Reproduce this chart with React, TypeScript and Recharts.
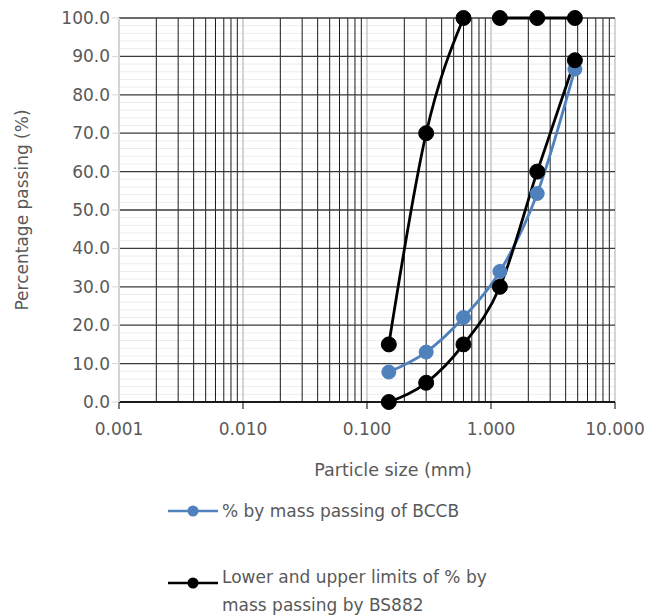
import React from "react";
import { LineChart, Line, XAxis, YAxis, ReferenceLine } from "recharts";

// sieve sizes (mm) and % passing
const sieveSizes = [0.15, 0.3, 0.6, 1.18, 2.36, 4.75];
const bccbPassing = [7.8, 13.0, 22.0, 34.0, 54.3, 86.7];
const lowerLimit = [0, 5, 15, 30, 60, 89];
const upperLimit = [15, 70, 100, 100, 100, 100];

const xTicks = [0.001, 0.01, 0.1, 1, 10];
const yTicks = [0, 10, 20, 30, 40, 50, 60, 70, 80, 90, 100];

const BLUE = "#4f81bd";
const TEXT = "#595959";
const FONT = "'DejaVu Sans', sans-serif";

const toPoints = (xs: number[], ys: number[]) => xs.map((x, i) => ({ x, y: ys[i] }));

const bccbData = toPoints(sieveSizes, bccbPassing);
const lowerData = toPoints(sieveSizes, lowerLimit);
const upperData = toPoints(sieveSizes, upperLimit);

// log minor grid (2..9 within each decade) and y minor grid every 2 %
const minorX: number[] = [];
[0.001, 0.01, 0.1, 1].forEach((d) => {
  for (let k = 2; k <= 9; k++) minorX.push(+(d * k).toPrecision(3));
});
const minorY: number[] = [];
for (let v = 2; v < 100; v += 2) if (v % 10 !== 0) minorY.push(v);

function LegendIcon({ color }: { color: string }) {
  return (
    <svg width={50} height={14} style={{ marginRight: 4, flexShrink: 0 }}>
      <line x1={0} y1={7} x2={50} y2={7} stroke={color} strokeWidth={2.5} />
      <circle cx={25} cy={7} r={5.5} fill={color} />
    </svg>
  );
}

export default function App() {
  return (
    <div style={{ position: "absolute", left: 0, top: 0, width: 650, height: 616, fontFamily: FONT }}>
      <LineChart
        width={650}
        height={616}
        margin={{ top: 18, right: 35, left: 0, bottom: 134 }}
      >
        {minorY.map((v) => (
          <ReferenceLine key={"my" + v} y={v} stroke="#ececec" strokeWidth={1} />
        ))}
        {minorX.map((v) => (
          <ReferenceLine key={"mx" + v} x={v} stroke="#1a1a1a" strokeWidth={1} />
        ))}
        {xTicks.map((v) => (
          <ReferenceLine key={"dx" + v} x={v} stroke="#d4d4d4" strokeWidth={2} />
        ))}
        {yTicks.map((v) => (
          <ReferenceLine key={"dy" + v} y={v} stroke="#3a3a3a" strokeWidth={1.3} />
        ))}
        <XAxis
          type="number"
          dataKey="x"
          scale="log"
          domain={[0.001, 10]}
          ticks={xTicks}
          allowDataOverflow
          tickFormatter={(v: number) => v.toFixed(3)}
          tick={{ fill: TEXT, fontSize: 17, fontFamily: FONT, dy: 12 }}
          tickLine={{ stroke: "#000" }}
          tickSize={7}
          axisLine={{ stroke: "#000", strokeWidth: 1.3 }}
          height={80}
          label={{
            value: "Particle size (mm)",
            position: "insideBottom",
            offset: 6,
            dx: 26,
            fill: TEXT,
            fontSize: 17.5,
            fontFamily: FONT,
          }}
        />
        <YAxis
          type="number"
          dataKey="y"
          domain={[0, 100]}
          ticks={yTicks}
          width={119}
          tickFormatter={(v: number) => v.toFixed(1)}
          tick={{ fill: TEXT, fontSize: 17, fontFamily: FONT }}
          tickLine={{ stroke: "#d4d4d4" }}
          tickSize={7}
          axisLine={{ stroke: "#d4d4d4", strokeWidth: 2 }}
          label={{
            content: () => (
              <text
                transform="translate(22,210) rotate(-90)"
                textAnchor="middle"
                dominantBaseline="central"
                fill={TEXT}
                fontSize={17}
                fontFamily={FONT}
              >
                Percentage passing (%)
              </text>
            ),
          }}
        />
        <Line
          data={bccbData}
          dataKey="y"
          type="monotone"
          stroke={BLUE}
          strokeWidth={2.8}
          dot={{ r: 7, fill: BLUE, stroke: BLUE, strokeWidth: 1 }}
          isAnimationActive={false}
        />
        <Line
          data={lowerData}
          dataKey="y"
          type="monotone"
          stroke="#000"
          strokeWidth={2.8}
          dot={{ r: 7.5, fill: "#000", stroke: "#000", strokeWidth: 1 }}
          isAnimationActive={false}
        />
        <Line
          data={upperData.slice(0, 3)}
          dataKey="y"
          type="monotone"
          stroke="#000"
          strokeWidth={2.8}
          dot={{ r: 7.5, fill: "#000", stroke: "#000", strokeWidth: 1 }}
          isAnimationActive={false}
        />
        <Line
          data={upperData.slice(3)}
          dataKey="y"
          type="monotone"
          stroke="#000"
          strokeWidth={2.8}
          dot={{ r: 7.5, fill: "#000", stroke: "#000", strokeWidth: 1 }}
          isAnimationActive={false}
        />
      </LineChart>
      <div
        style={{
          position: "absolute",
          left: 168,
          top: 497,
          color: TEXT,
          fontSize: 17,
          lineHeight: "28px",
        }}
      >
        <div style={{ display: "flex", alignItems: "center" }}>
          <LegendIcon color={BLUE} />
          <span>% by mass passing of BCCB</span>
        </div>
        <div style={{ display: "flex", alignItems: "flex-start", marginTop: 38 }}>
          <div style={{ marginTop: 7 }}>
            <LegendIcon color="#000" />
          </div>
          <span style={{ width: 290 }}>Lower and upper limits of % by mass passing by BS882</span>
        </div>
      </div>
    </div>
  );
}
